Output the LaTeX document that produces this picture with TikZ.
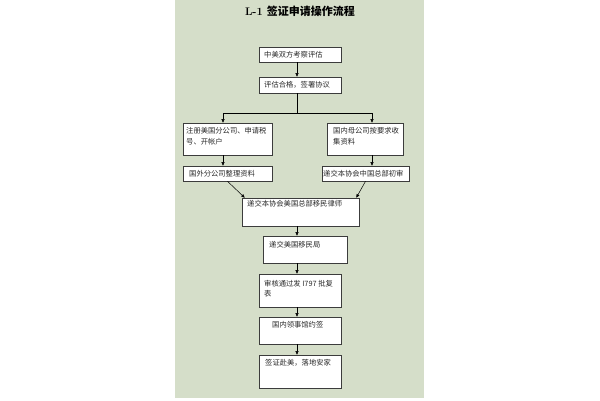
\documentclass[tikz,border=0pt]{standalone}
\usepackage{fontspec}
\newfontfamily\cjk{Noto Sans CJK SC}
\usetikzlibrary{arrows.meta,calc}
\definecolor{panel}{RGB}{213,222,201}
\definecolor{edge}{RGB}{60,60,60}
\definecolor{ink}{RGB}{40,40,40}
\tikzset{
  box/.style={draw=edge, line width=0.6pt, fill=white, inner sep=0, rectangle},
  txt/.style={inner sep=0, anchor=base west, text=ink, font=\cjk\fontsize{7.3}{9}\selectfont},
  arr/.style={draw=black, line width=0.5pt, -{Triangle[length=3.5pt,width=3pt]}},
  ln/.style={draw=black, line width=0.5pt}
}
\begin{document}
\begin{tikzpicture}[x=1pt,y=-1pt]
\useasboundingbox (0,0) rectangle (600,400);
\fill[white] (0,0) rectangle (600,400);
\fill[panel] (175,0) rectangle (424,398);
\node[inner sep=0, text=black] (title) at (300,11) {\fontsize{11}{13}\selectfont\bfseries L-1 {\cjk\bfseries 签证申请操作流程}};
% boxes
\node[box, minimum width=82, minimum height=15] (b1) at (300,54.5) {};
\node[box, minimum width=82, minimum height=16] (b2) at (300,85) {};
\node[box, minimum width=89, minimum height=32] (L1) at (227.5,139) {};
\node[box, minimum width=76, minimum height=32] (R1) at (365,139) {};
\node[box, minimum width=89, minimum height=15] (L2) at (227.5,173.5) {};
\node[box, minimum width=87, minimum height=15] (R2) at (365.5,173.5) {};
\node[box, minimum width=117, minimum height=28] (M) at (300.5,212) {};
\node[box, minimum width=84, minimum height=27] (B3) at (305,249.5) {};
\node[box, minimum width=82, minimum height=33] (B4) at (300,290.5) {};
\node[box, minimum width=82, minimum height=27] (B5) at (300,330.5) {};
\node[box, minimum width=82, minimum height=33] (B6) at (300,371.5) {};
% texts
\node[txt] (t1) at (264,57.3) {中美双方考察评估};
\node[txt] (t2) at (264,87.8) {评估合格，签署协议};
\node[txt] (t3a) at (186,133.8) {注册美国分公司、申请税};
\node[txt] (t3b) at (186,144.8) {号、开帐户};
\node[txt] (t4a) at (333,133.8) {国内母公司按要求收};
\node[txt] (t4b) at (333,144.8) {集资料};
\node[txt] (t5) at (189,176.3) {国外分公司整理资料};
\node[txt] (t6) at (323,176.3) {递交本协会中国总部初审};
\node[txt] (t7) at (247,206.8) {递交本协会美国总部移民律师};
\node[txt] (t8) at (269,247.8) {递交美国移民局};
\node[txt] (t9a) at (264,286.3) {审核通过发 I797 批复};
\node[txt] (t9b) at (264,296.3) {表};
\node[txt] (t10) at (272,327.8) {国内领事馆约签};
\node[txt] (t11) at (265,365.8) {签证赴美，落地安家};
% connectors
\coordinate (split) at (297,113);
\coordinate (sl) at (223,113);
\coordinate (sr) at (372,113);
\draw[arr] (b1.south -| split) -- (b2.north -| split);
\draw[ln] (b2.south -| split) -- (split);
\draw[ln] (sl) -- (sr);
\draw[arr] (sl) -- (L1.north -| sl);
\draw[arr] (sr) -- (R1.north -| sr);
\draw[arr] (L1.south -| sl) -- (L2.north -| sl);
\draw[arr] (R1.south -| sr) -- (R2.north -| sr);
\draw[arr] (L2.south) -- ($(M.north west)+(3,0)$);
\draw[arr] (R2.south) -- ($(M.north east)+(-3,0)$);
\draw[arr] (M.south -| split) -- (B3.north -| split);
\draw[arr] (B3.south -| split) -- (B4.north -| split);
\draw[arr] (B4.south -| split) -- (B5.north -| split);
\draw[arr] (B5.south -| split) -- (B6.north -| split);
\end{tikzpicture}
\end{document}
